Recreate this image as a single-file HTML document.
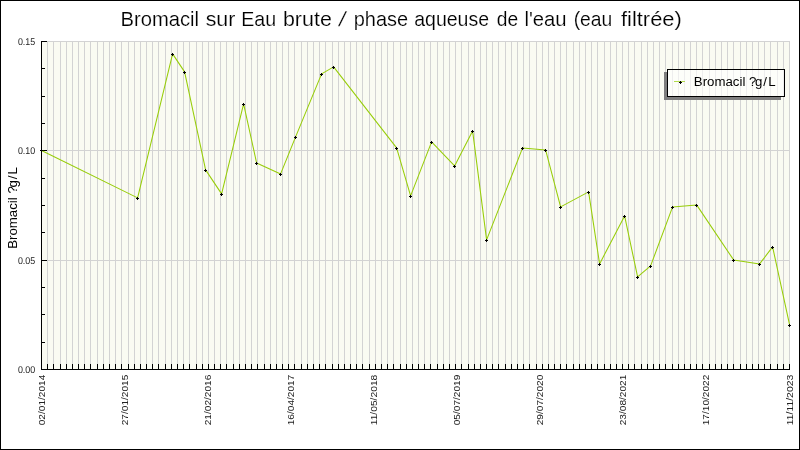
<!DOCTYPE html>
<html lang="fr"><head><meta charset="utf-8">
<title>Bromacil sur Eau brute / phase aqueuse de l'eau (eau filtrée)</title>
<style>
html,body{margin:0;padding:0;background:#fff;}
body{width:800px;height:450px;overflow:hidden;}
svg{display:block;will-change:transform;}
text{font-family:"Liberation Sans",sans-serif;}
</style></head><body>
<svg width="800" height="450" viewBox="0 0 800 450">
<rect x="0" y="0" width="800" height="450" fill="#fff"/>
<rect x="0.5" y="0.5" width="799" height="449" fill="none" stroke="#000" stroke-width="1" shape-rendering="crispEdges"/>
<rect x="41" y="41" width="749" height="329" fill="#fafbf2" shape-rendering="crispEdges"/>
<g stroke="#d3d3d3" stroke-width="1" shape-rendering="crispEdges">
<line x1="47.5" y1="41" x2="47.5" y2="369"/>
<line x1="53.5" y1="41" x2="53.5" y2="369"/>
<line x1="60.5" y1="41" x2="60.5" y2="369"/>
<line x1="66.5" y1="41" x2="66.5" y2="369"/>
<line x1="72.5" y1="41" x2="72.5" y2="369"/>
<line x1="78.5" y1="41" x2="78.5" y2="369"/>
<line x1="84.5" y1="41" x2="84.5" y2="369"/>
<line x1="90.5" y1="41" x2="90.5" y2="369"/>
<line x1="97.5" y1="41" x2="97.5" y2="369"/>
<line x1="103.5" y1="41" x2="103.5" y2="369"/>
<line x1="109.5" y1="41" x2="109.5" y2="369"/>
<line x1="115.5" y1="41" x2="115.5" y2="369"/>
<line x1="121.5" y1="41" x2="121.5" y2="369"/>
<line x1="128.5" y1="41" x2="128.5" y2="369"/>
<line x1="134.5" y1="41" x2="134.5" y2="369"/>
<line x1="140.5" y1="41" x2="140.5" y2="369"/>
<line x1="146.5" y1="41" x2="146.5" y2="369"/>
<line x1="152.5" y1="41" x2="152.5" y2="369"/>
<line x1="158.5" y1="41" x2="158.5" y2="369"/>
<line x1="165.5" y1="41" x2="165.5" y2="369"/>
<line x1="171.5" y1="41" x2="171.5" y2="369"/>
<line x1="177.5" y1="41" x2="177.5" y2="369"/>
<line x1="183.5" y1="41" x2="183.5" y2="369"/>
<line x1="189.5" y1="41" x2="189.5" y2="369"/>
<line x1="196.5" y1="41" x2="196.5" y2="369"/>
<line x1="202.5" y1="41" x2="202.5" y2="369"/>
<line x1="208.5" y1="41" x2="208.5" y2="369"/>
<line x1="214.5" y1="41" x2="214.5" y2="369"/>
<line x1="220.5" y1="41" x2="220.5" y2="369"/>
<line x1="226.5" y1="41" x2="226.5" y2="369"/>
<line x1="233.5" y1="41" x2="233.5" y2="369"/>
<line x1="239.5" y1="41" x2="239.5" y2="369"/>
<line x1="245.5" y1="41" x2="245.5" y2="369"/>
<line x1="251.5" y1="41" x2="251.5" y2="369"/>
<line x1="257.5" y1="41" x2="257.5" y2="369"/>
<line x1="264.5" y1="41" x2="264.5" y2="369"/>
<line x1="270.5" y1="41" x2="270.5" y2="369"/>
<line x1="276.5" y1="41" x2="276.5" y2="369"/>
<line x1="282.5" y1="41" x2="282.5" y2="369"/>
<line x1="288.5" y1="41" x2="288.5" y2="369"/>
<line x1="294.5" y1="41" x2="294.5" y2="369"/>
<line x1="301.5" y1="41" x2="301.5" y2="369"/>
<line x1="307.5" y1="41" x2="307.5" y2="369"/>
<line x1="313.5" y1="41" x2="313.5" y2="369"/>
<line x1="319.5" y1="41" x2="319.5" y2="369"/>
<line x1="325.5" y1="41" x2="325.5" y2="369"/>
<line x1="332.5" y1="41" x2="332.5" y2="369"/>
<line x1="338.5" y1="41" x2="338.5" y2="369"/>
<line x1="344.5" y1="41" x2="344.5" y2="369"/>
<line x1="350.5" y1="41" x2="350.5" y2="369"/>
<line x1="356.5" y1="41" x2="356.5" y2="369"/>
<line x1="362.5" y1="41" x2="362.5" y2="369"/>
<line x1="369.5" y1="41" x2="369.5" y2="369"/>
<line x1="375.5" y1="41" x2="375.5" y2="369"/>
<line x1="381.5" y1="41" x2="381.5" y2="369"/>
<line x1="387.5" y1="41" x2="387.5" y2="369"/>
<line x1="393.5" y1="41" x2="393.5" y2="369"/>
<line x1="400.5" y1="41" x2="400.5" y2="369"/>
<line x1="406.5" y1="41" x2="406.5" y2="369"/>
<line x1="412.5" y1="41" x2="412.5" y2="369"/>
<line x1="418.5" y1="41" x2="418.5" y2="369"/>
<line x1="424.5" y1="41" x2="424.5" y2="369"/>
<line x1="430.5" y1="41" x2="430.5" y2="369"/>
<line x1="437.5" y1="41" x2="437.5" y2="369"/>
<line x1="443.5" y1="41" x2="443.5" y2="369"/>
<line x1="449.5" y1="41" x2="449.5" y2="369"/>
<line x1="455.5" y1="41" x2="455.5" y2="369"/>
<line x1="461.5" y1="41" x2="461.5" y2="369"/>
<line x1="468.5" y1="41" x2="468.5" y2="369"/>
<line x1="474.5" y1="41" x2="474.5" y2="369"/>
<line x1="480.5" y1="41" x2="480.5" y2="369"/>
<line x1="486.5" y1="41" x2="486.5" y2="369"/>
<line x1="492.5" y1="41" x2="492.5" y2="369"/>
<line x1="498.5" y1="41" x2="498.5" y2="369"/>
<line x1="505.5" y1="41" x2="505.5" y2="369"/>
<line x1="511.5" y1="41" x2="511.5" y2="369"/>
<line x1="517.5" y1="41" x2="517.5" y2="369"/>
<line x1="523.5" y1="41" x2="523.5" y2="369"/>
<line x1="529.5" y1="41" x2="529.5" y2="369"/>
<line x1="536.5" y1="41" x2="536.5" y2="369"/>
<line x1="542.5" y1="41" x2="542.5" y2="369"/>
<line x1="548.5" y1="41" x2="548.5" y2="369"/>
<line x1="554.5" y1="41" x2="554.5" y2="369"/>
<line x1="560.5" y1="41" x2="560.5" y2="369"/>
<line x1="566.5" y1="41" x2="566.5" y2="369"/>
<line x1="573.5" y1="41" x2="573.5" y2="369"/>
<line x1="579.5" y1="41" x2="579.5" y2="369"/>
<line x1="585.5" y1="41" x2="585.5" y2="369"/>
<line x1="591.5" y1="41" x2="591.5" y2="369"/>
<line x1="597.5" y1="41" x2="597.5" y2="369"/>
<line x1="604.5" y1="41" x2="604.5" y2="369"/>
<line x1="610.5" y1="41" x2="610.5" y2="369"/>
<line x1="616.5" y1="41" x2="616.5" y2="369"/>
<line x1="622.5" y1="41" x2="622.5" y2="369"/>
<line x1="628.5" y1="41" x2="628.5" y2="369"/>
<line x1="634.5" y1="41" x2="634.5" y2="369"/>
<line x1="641.5" y1="41" x2="641.5" y2="369"/>
<line x1="647.5" y1="41" x2="647.5" y2="369"/>
<line x1="653.5" y1="41" x2="653.5" y2="369"/>
<line x1="659.5" y1="41" x2="659.5" y2="369"/>
<line x1="665.5" y1="41" x2="665.5" y2="369"/>
<line x1="672.5" y1="41" x2="672.5" y2="369"/>
<line x1="678.5" y1="41" x2="678.5" y2="369"/>
<line x1="684.5" y1="41" x2="684.5" y2="369"/>
<line x1="690.5" y1="41" x2="690.5" y2="369"/>
<line x1="696.5" y1="41" x2="696.5" y2="369"/>
<line x1="702.5" y1="41" x2="702.5" y2="369"/>
<line x1="709.5" y1="41" x2="709.5" y2="369"/>
<line x1="715.5" y1="41" x2="715.5" y2="369"/>
<line x1="721.5" y1="41" x2="721.5" y2="369"/>
<line x1="727.5" y1="41" x2="727.5" y2="369"/>
<line x1="733.5" y1="41" x2="733.5" y2="369"/>
<line x1="740.5" y1="41" x2="740.5" y2="369"/>
<line x1="746.5" y1="41" x2="746.5" y2="369"/>
<line x1="752.5" y1="41" x2="752.5" y2="369"/>
<line x1="758.5" y1="41" x2="758.5" y2="369"/>
<line x1="764.5" y1="41" x2="764.5" y2="369"/>
<line x1="770.5" y1="41" x2="770.5" y2="369"/>
<line x1="777.5" y1="41" x2="777.5" y2="369"/>
<line x1="783.5" y1="41" x2="783.5" y2="369"/>
<line x1="789.5" y1="41" x2="789.5" y2="369"/>
<line x1="41" y1="41.5" x2="790" y2="41.5"/>
<line x1="41" y1="150.5" x2="790" y2="150.5"/>
<line x1="41" y1="260.5" x2="790" y2="260.5"/>
</g>
<g stroke="#000" stroke-width="1" shape-rendering="crispEdges">
<line x1="41.5" y1="41" x2="41.5" y2="370"/>
<line x1="41" y1="369.5" x2="790" y2="369.5"/>
<line x1="41.5" y1="364" x2="41.5" y2="370"/>
<line x1="47.5" y1="364" x2="47.5" y2="370"/>
<line x1="53.5" y1="364" x2="53.5" y2="370"/>
<line x1="60.5" y1="364" x2="60.5" y2="370"/>
<line x1="66.5" y1="364" x2="66.5" y2="370"/>
<line x1="72.5" y1="364" x2="72.5" y2="370"/>
<line x1="78.5" y1="364" x2="78.5" y2="370"/>
<line x1="84.5" y1="364" x2="84.5" y2="370"/>
<line x1="90.5" y1="364" x2="90.5" y2="370"/>
<line x1="97.5" y1="364" x2="97.5" y2="370"/>
<line x1="103.5" y1="364" x2="103.5" y2="370"/>
<line x1="109.5" y1="364" x2="109.5" y2="370"/>
<line x1="115.5" y1="364" x2="115.5" y2="370"/>
<line x1="121.5" y1="364" x2="121.5" y2="370"/>
<line x1="128.5" y1="364" x2="128.5" y2="370"/>
<line x1="134.5" y1="364" x2="134.5" y2="370"/>
<line x1="140.5" y1="364" x2="140.5" y2="370"/>
<line x1="146.5" y1="364" x2="146.5" y2="370"/>
<line x1="152.5" y1="364" x2="152.5" y2="370"/>
<line x1="158.5" y1="364" x2="158.5" y2="370"/>
<line x1="165.5" y1="364" x2="165.5" y2="370"/>
<line x1="171.5" y1="364" x2="171.5" y2="370"/>
<line x1="177.5" y1="364" x2="177.5" y2="370"/>
<line x1="183.5" y1="364" x2="183.5" y2="370"/>
<line x1="189.5" y1="364" x2="189.5" y2="370"/>
<line x1="196.5" y1="364" x2="196.5" y2="370"/>
<line x1="202.5" y1="364" x2="202.5" y2="370"/>
<line x1="208.5" y1="364" x2="208.5" y2="370"/>
<line x1="214.5" y1="364" x2="214.5" y2="370"/>
<line x1="220.5" y1="364" x2="220.5" y2="370"/>
<line x1="226.5" y1="364" x2="226.5" y2="370"/>
<line x1="233.5" y1="364" x2="233.5" y2="370"/>
<line x1="239.5" y1="364" x2="239.5" y2="370"/>
<line x1="245.5" y1="364" x2="245.5" y2="370"/>
<line x1="251.5" y1="364" x2="251.5" y2="370"/>
<line x1="257.5" y1="364" x2="257.5" y2="370"/>
<line x1="264.5" y1="364" x2="264.5" y2="370"/>
<line x1="270.5" y1="364" x2="270.5" y2="370"/>
<line x1="276.5" y1="364" x2="276.5" y2="370"/>
<line x1="282.5" y1="364" x2="282.5" y2="370"/>
<line x1="288.5" y1="364" x2="288.5" y2="370"/>
<line x1="294.5" y1="364" x2="294.5" y2="370"/>
<line x1="301.5" y1="364" x2="301.5" y2="370"/>
<line x1="307.5" y1="364" x2="307.5" y2="370"/>
<line x1="313.5" y1="364" x2="313.5" y2="370"/>
<line x1="319.5" y1="364" x2="319.5" y2="370"/>
<line x1="325.5" y1="364" x2="325.5" y2="370"/>
<line x1="332.5" y1="364" x2="332.5" y2="370"/>
<line x1="338.5" y1="364" x2="338.5" y2="370"/>
<line x1="344.5" y1="364" x2="344.5" y2="370"/>
<line x1="350.5" y1="364" x2="350.5" y2="370"/>
<line x1="356.5" y1="364" x2="356.5" y2="370"/>
<line x1="362.5" y1="364" x2="362.5" y2="370"/>
<line x1="369.5" y1="364" x2="369.5" y2="370"/>
<line x1="375.5" y1="364" x2="375.5" y2="370"/>
<line x1="381.5" y1="364" x2="381.5" y2="370"/>
<line x1="387.5" y1="364" x2="387.5" y2="370"/>
<line x1="393.5" y1="364" x2="393.5" y2="370"/>
<line x1="400.5" y1="364" x2="400.5" y2="370"/>
<line x1="406.5" y1="364" x2="406.5" y2="370"/>
<line x1="412.5" y1="364" x2="412.5" y2="370"/>
<line x1="418.5" y1="364" x2="418.5" y2="370"/>
<line x1="424.5" y1="364" x2="424.5" y2="370"/>
<line x1="430.5" y1="364" x2="430.5" y2="370"/>
<line x1="437.5" y1="364" x2="437.5" y2="370"/>
<line x1="443.5" y1="364" x2="443.5" y2="370"/>
<line x1="449.5" y1="364" x2="449.5" y2="370"/>
<line x1="455.5" y1="364" x2="455.5" y2="370"/>
<line x1="461.5" y1="364" x2="461.5" y2="370"/>
<line x1="468.5" y1="364" x2="468.5" y2="370"/>
<line x1="474.5" y1="364" x2="474.5" y2="370"/>
<line x1="480.5" y1="364" x2="480.5" y2="370"/>
<line x1="486.5" y1="364" x2="486.5" y2="370"/>
<line x1="492.5" y1="364" x2="492.5" y2="370"/>
<line x1="498.5" y1="364" x2="498.5" y2="370"/>
<line x1="505.5" y1="364" x2="505.5" y2="370"/>
<line x1="511.5" y1="364" x2="511.5" y2="370"/>
<line x1="517.5" y1="364" x2="517.5" y2="370"/>
<line x1="523.5" y1="364" x2="523.5" y2="370"/>
<line x1="529.5" y1="364" x2="529.5" y2="370"/>
<line x1="536.5" y1="364" x2="536.5" y2="370"/>
<line x1="542.5" y1="364" x2="542.5" y2="370"/>
<line x1="548.5" y1="364" x2="548.5" y2="370"/>
<line x1="554.5" y1="364" x2="554.5" y2="370"/>
<line x1="560.5" y1="364" x2="560.5" y2="370"/>
<line x1="566.5" y1="364" x2="566.5" y2="370"/>
<line x1="573.5" y1="364" x2="573.5" y2="370"/>
<line x1="579.5" y1="364" x2="579.5" y2="370"/>
<line x1="585.5" y1="364" x2="585.5" y2="370"/>
<line x1="591.5" y1="364" x2="591.5" y2="370"/>
<line x1="597.5" y1="364" x2="597.5" y2="370"/>
<line x1="604.5" y1="364" x2="604.5" y2="370"/>
<line x1="610.5" y1="364" x2="610.5" y2="370"/>
<line x1="616.5" y1="364" x2="616.5" y2="370"/>
<line x1="622.5" y1="364" x2="622.5" y2="370"/>
<line x1="628.5" y1="364" x2="628.5" y2="370"/>
<line x1="634.5" y1="364" x2="634.5" y2="370"/>
<line x1="641.5" y1="364" x2="641.5" y2="370"/>
<line x1="647.5" y1="364" x2="647.5" y2="370"/>
<line x1="653.5" y1="364" x2="653.5" y2="370"/>
<line x1="659.5" y1="364" x2="659.5" y2="370"/>
<line x1="665.5" y1="364" x2="665.5" y2="370"/>
<line x1="672.5" y1="364" x2="672.5" y2="370"/>
<line x1="678.5" y1="364" x2="678.5" y2="370"/>
<line x1="684.5" y1="364" x2="684.5" y2="370"/>
<line x1="690.5" y1="364" x2="690.5" y2="370"/>
<line x1="696.5" y1="364" x2="696.5" y2="370"/>
<line x1="702.5" y1="364" x2="702.5" y2="370"/>
<line x1="709.5" y1="364" x2="709.5" y2="370"/>
<line x1="715.5" y1="364" x2="715.5" y2="370"/>
<line x1="721.5" y1="364" x2="721.5" y2="370"/>
<line x1="727.5" y1="364" x2="727.5" y2="370"/>
<line x1="733.5" y1="364" x2="733.5" y2="370"/>
<line x1="740.5" y1="364" x2="740.5" y2="370"/>
<line x1="746.5" y1="364" x2="746.5" y2="370"/>
<line x1="752.5" y1="364" x2="752.5" y2="370"/>
<line x1="758.5" y1="364" x2="758.5" y2="370"/>
<line x1="764.5" y1="364" x2="764.5" y2="370"/>
<line x1="770.5" y1="364" x2="770.5" y2="370"/>
<line x1="777.5" y1="364" x2="777.5" y2="370"/>
<line x1="783.5" y1="364" x2="783.5" y2="370"/>
<line x1="789.5" y1="364" x2="789.5" y2="370"/>
<line x1="41" y1="41.5" x2="47" y2="41.5"/>
<line x1="41" y1="68.5" x2="45" y2="68.5"/>
<line x1="41" y1="96.5" x2="45" y2="96.5"/>
<line x1="41" y1="123.5" x2="45" y2="123.5"/>
<line x1="41" y1="150.5" x2="47" y2="150.5"/>
<line x1="41" y1="178.5" x2="45" y2="178.5"/>
<line x1="41" y1="205.5" x2="45" y2="205.5"/>
<line x1="41" y1="232.5" x2="45" y2="232.5"/>
<line x1="41" y1="260.5" x2="47" y2="260.5"/>
<line x1="41" y1="287.5" x2="45" y2="287.5"/>
<line x1="41" y1="314.5" x2="45" y2="314.5"/>
<line x1="41" y1="342.5" x2="45" y2="342.5"/>
<line x1="41" y1="369.5" x2="47" y2="369.5"/>
</g>
<polyline points="41.5,150.5 137.6,197.9 172.6,53.9 184.6,71.9 205.6,169.9 221.6,193.9 243.6,103.9 256.6,162.9 280.6,173.9 295.6,136.9 321.6,73.9 333.6,66.9 396.6,147.9 410.6,195.9 431.6,141.9 454.6,165.9 472.6,130.9 486.6,239.9 522.6,147.9 545.6,149.9 560.6,206.9 588.6,191.9 599.6,263.9 624.6,215.9 637.6,276.9 650.6,265.9 672.6,206.9 696.6,204.9 733.6,259.9 759.6,263.9 772.6,246.9 789.6,324.9" fill="none" stroke="#97cd07" stroke-width="1.05" stroke-linejoin="round"/>
<g fill="#000" shape-rendering="crispEdges">
<path d="M40 150h1v-1h1v1h1v1h-1v1h-1v-1h-1z"/>
<path d="M136 198h1v-1h1v1h1v1h-1v1h-1v-1h-1z"/>
<path d="M171 54h1v-1h1v1h1v1h-1v1h-1v-1h-1z"/>
<path d="M183 72h1v-1h1v1h1v1h-1v1h-1v-1h-1z"/>
<path d="M204 170h1v-1h1v1h1v1h-1v1h-1v-1h-1z"/>
<path d="M220 194h1v-1h1v1h1v1h-1v1h-1v-1h-1z"/>
<path d="M242 104h1v-1h1v1h1v1h-1v1h-1v-1h-1z"/>
<path d="M255 163h1v-1h1v1h1v1h-1v1h-1v-1h-1z"/>
<path d="M279 174h1v-1h1v1h1v1h-1v1h-1v-1h-1z"/>
<path d="M294 137h1v-1h1v1h1v1h-1v1h-1v-1h-1z"/>
<path d="M320 74h1v-1h1v1h1v1h-1v1h-1v-1h-1z"/>
<path d="M332 67h1v-1h1v1h1v1h-1v1h-1v-1h-1z"/>
<path d="M395 148h1v-1h1v1h1v1h-1v1h-1v-1h-1z"/>
<path d="M409 196h1v-1h1v1h1v1h-1v1h-1v-1h-1z"/>
<path d="M430 142h1v-1h1v1h1v1h-1v1h-1v-1h-1z"/>
<path d="M453 166h1v-1h1v1h1v1h-1v1h-1v-1h-1z"/>
<path d="M471 131h1v-1h1v1h1v1h-1v1h-1v-1h-1z"/>
<path d="M485 240h1v-1h1v1h1v1h-1v1h-1v-1h-1z"/>
<path d="M521 148h1v-1h1v1h1v1h-1v1h-1v-1h-1z"/>
<path d="M544 150h1v-1h1v1h1v1h-1v1h-1v-1h-1z"/>
<path d="M559 207h1v-1h1v1h1v1h-1v1h-1v-1h-1z"/>
<path d="M587 192h1v-1h1v1h1v1h-1v1h-1v-1h-1z"/>
<path d="M598 264h1v-1h1v1h1v1h-1v1h-1v-1h-1z"/>
<path d="M623 216h1v-1h1v1h1v1h-1v1h-1v-1h-1z"/>
<path d="M636 277h1v-1h1v1h1v1h-1v1h-1v-1h-1z"/>
<path d="M649 266h1v-1h1v1h1v1h-1v1h-1v-1h-1z"/>
<path d="M671 207h1v-1h1v1h1v1h-1v1h-1v-1h-1z"/>
<path d="M695 205h1v-1h1v1h1v1h-1v1h-1v-1h-1z"/>
<path d="M732 260h1v-1h1v1h1v1h-1v1h-1v-1h-1z"/>
<path d="M758 264h1v-1h1v1h1v1h-1v1h-1v-1h-1z"/>
<path d="M771 247h1v-1h1v1h1v1h-1v1h-1v-1h-1z"/>
<path d="M788 325h1v-1h1v1h1v1h-1v1h-1v-1h-1z"/>
</g>
<path d="M664 72h3v25h114v3h-117z" fill="#7e7e7e" shape-rendering="crispEdges"/>
<rect x="668" y="70" width="116" height="26" fill="#fff" fill-opacity="0.62" shape-rendering="crispEdges"/>
<rect x="667.5" y="69.5" width="117" height="27" fill="none" stroke="#000" stroke-width="1" shape-rendering="crispEdges"/>
<line x1="674" y1="81.5" x2="685" y2="81.5" stroke="#b3dc4e" stroke-width="1" shape-rendering="crispEdges"/>
<path d="M679 82h1v-1h1v1h1v1h-1v1h-1v-1h-1z" fill="#000" shape-rendering="crispEdges"/>
<text x="693.8" y="86" font-size="13.25" fill="#000">Bromacil ?<tspan dx="-1.4">g</tspan><tspan dx="0.9">/</tspan><tspan dx="1.2">L</tspan></text>
<text y="25.5" font-size="20.6" fill="#000" stroke="#fff" stroke-width="0.18" xml:space="preserve"><tspan x="120.45" textLength="78.65" lengthAdjust="spacingAndGlyphs">Bromacil</tspan> <tspan x="205.7" textLength="29.65" lengthAdjust="spacingAndGlyphs">sur</tspan> <tspan x="241.2" textLength="34.9" lengthAdjust="spacingAndGlyphs">Eau</tspan> <tspan x="282.95" textLength="48.9" lengthAdjust="spacingAndGlyphs">brute</tspan></text>
<text transform="translate(338.1,25.5) skewX(-13)" x="0" y="0" font-size="20.6" fill="#000" stroke="#fff" stroke-width="0.18" xml:space="preserve">/</text>
<text y="25.5" font-size="20.6" fill="#000" stroke="#fff" stroke-width="0.18" xml:space="preserve"><tspan x="353.7" textLength="54.4" lengthAdjust="spacingAndGlyphs">phase</tspan> <tspan x="414.2" textLength="74.9" lengthAdjust="spacingAndGlyphs">aqueuse</tspan> <tspan x="496.7" textLength="21.4" lengthAdjust="spacingAndGlyphs">de</tspan> <tspan x="524.45" textLength="42.15" lengthAdjust="spacingAndGlyphs">l'eau</tspan> <tspan x="573.7" textLength="38.65" lengthAdjust="spacingAndGlyphs">(eau</tspan> <tspan x="620.95" textLength="60.85" lengthAdjust="spacingAndGlyphs">filtrée)</tspan></text>
<text x="35.2" y="45" font-size="9.8" text-rendering="geometricPrecision" fill="#222" text-anchor="end" textLength="17.3" lengthAdjust="spacingAndGlyphs">0.15</text>
<text x="35.2" y="154" font-size="9.8" text-rendering="geometricPrecision" fill="#222" text-anchor="end" textLength="17.3" lengthAdjust="spacingAndGlyphs">0.10</text>
<text x="35.2" y="264" font-size="9.8" text-rendering="geometricPrecision" fill="#222" text-anchor="end" textLength="17.3" lengthAdjust="spacingAndGlyphs">0.05</text>
<text x="35.2" y="373" font-size="9.8" text-rendering="geometricPrecision" fill="#222" text-anchor="end" textLength="17.3" lengthAdjust="spacingAndGlyphs">0.00</text>
<text transform="translate(17.3,248.8) rotate(-90)" font-size="13.25" fill="#000">Bromacil ?<tspan dx="-1.4">g</tspan><tspan dx="0.9">/</tspan><tspan dx="1.2">L</tspan></text>
<text transform="translate(45.3,425.3) rotate(-90)" font-size="9.5" fill="#222" textLength="50.6" lengthAdjust="spacingAndGlyphs">02/01/2014</text>
<text transform="translate(128.3,425.3) rotate(-90)" font-size="9.5" fill="#222" textLength="50.6" lengthAdjust="spacingAndGlyphs">27/01/2015</text>
<text transform="translate(211.3,425.3) rotate(-90)" font-size="9.5" fill="#222" textLength="50.6" lengthAdjust="spacingAndGlyphs">21/02/2016</text>
<text transform="translate(294.3,425.3) rotate(-90)" font-size="9.5" fill="#222" textLength="50.6" lengthAdjust="spacingAndGlyphs">16/04/2017</text>
<text transform="translate(377.3,425.3) rotate(-90)" font-size="9.5" fill="#222" textLength="50.6" lengthAdjust="spacingAndGlyphs">11/05/2018</text>
<text transform="translate(460.3,425.3) rotate(-90)" font-size="9.5" fill="#222" textLength="50.6" lengthAdjust="spacingAndGlyphs">05/07/2019</text>
<text transform="translate(543.3,425.3) rotate(-90)" font-size="9.5" fill="#222" textLength="50.6" lengthAdjust="spacingAndGlyphs">29/07/2020</text>
<text transform="translate(626.3,425.3) rotate(-90)" font-size="9.5" fill="#222" textLength="50.6" lengthAdjust="spacingAndGlyphs">23/08/2021</text>
<text transform="translate(709.3,425.3) rotate(-90)" font-size="9.5" fill="#222" textLength="50.6" lengthAdjust="spacingAndGlyphs">17/10/2022</text>
<text transform="translate(793.3,425.3) rotate(-90)" font-size="9.5" fill="#222" textLength="50.6" lengthAdjust="spacingAndGlyphs">11/11/2023</text>
</svg>
</body></html>
